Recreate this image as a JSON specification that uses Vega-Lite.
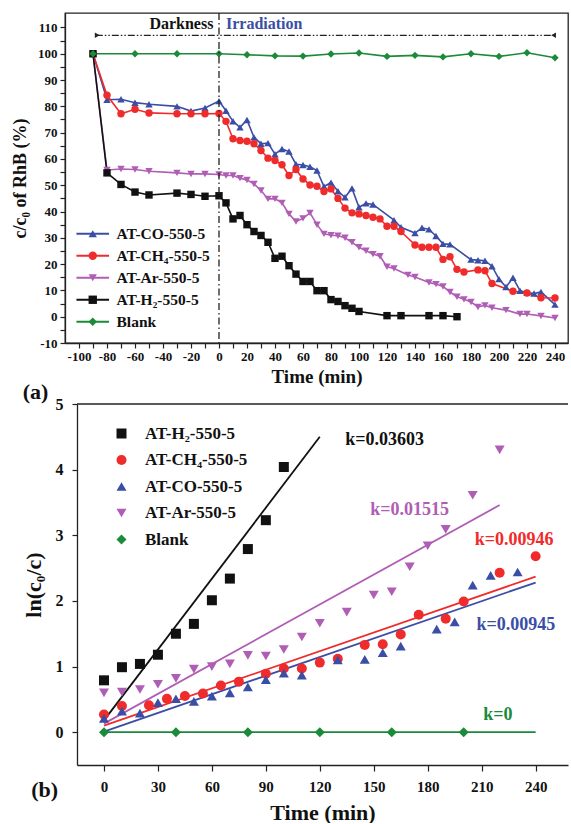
{
 "$schema": "https://vega.github.io/schema/vega-lite/v6.json",
 "padding": {"left": 10, "top": 11, "right": 0, "bottom": 0},
 "background": "white",
 "spacing": -12,
 "config": {
  "font": "Liberation Serif",
  "axis": {"labelFont": "Liberation Serif", "titleFont": "Liberation Serif", "labelFontWeight": "bold", "titleFontWeight": "bold", "labelColor": "#111", "titleColor": "#111", "domainColor": "#222", "tickColor": "#222", "grid": false, "domainWidth": 1.3, "tickWidth": 1.2, "labelFlush": false, "labelOverlap": false, "labelBound": false},
  "legend": {"labelFont": "Liberation Serif", "labelFontWeight": "bold", "labelColor": "#111"},
  "text": {"font": "Liberation Serif", "fontWeight": "bold"}
 },
 "datasets": {
  "top": [
   {"s":"AT-CO-550-5","t":-90,"v":100},{"s":"AT-CO-550-5","t":-80,"v":82.5},{"s":"AT-CO-550-5","t":-70,"v":82.7},{"s":"AT-CO-550-5","t":-60,"v":81.4},{"s":"AT-CO-550-5","t":-50,"v":80.8},{"s":"AT-CO-550-5","t":-30,"v":80},{"s":"AT-CO-550-5","t":-20,"v":78.2},{"s":"AT-CO-550-5","t":-10,"v":79.4},{"s":"AT-CO-550-5","t":0,"v":82},{"s":"AT-CO-550-5","t":5,"v":78.3},{"s":"AT-CO-550-5","t":10,"v":74.3},{"s":"AT-CO-550-5","t":15,"v":72},{"s":"AT-CO-550-5","t":20,"v":74.8},{"s":"AT-CO-550-5","t":25,"v":68.2},{"s":"AT-CO-550-5","t":30,"v":65.8},{"s":"AT-CO-550-5","t":35,"v":66},{"s":"AT-CO-550-5","t":40,"v":61.8},{"s":"AT-CO-550-5","t":45,"v":63.8},{"s":"AT-CO-550-5","t":50,"v":62.8},{"s":"AT-CO-550-5","t":55,"v":58},{"s":"AT-CO-550-5","t":60,"v":57.7},{"s":"AT-CO-550-5","t":65,"v":57},{"s":"AT-CO-550-5","t":70,"v":55.6},{"s":"AT-CO-550-5","t":75,"v":49.5},{"s":"AT-CO-550-5","t":80,"v":51},{"s":"AT-CO-550-5","t":85,"v":47.7},{"s":"AT-CO-550-5","t":90,"v":45.4},{"s":"AT-CO-550-5","t":95,"v":48.8},{"s":"AT-CO-550-5","t":100,"v":41.6},{"s":"AT-CO-550-5","t":105,"v":43.1},{"s":"AT-CO-550-5","t":110,"v":42.7},{"s":"AT-CO-550-5","t":125,"v":36.7},{"s":"AT-CO-550-5","t":130,"v":34},{"s":"AT-CO-550-5","t":140,"v":31.8},{"s":"AT-CO-550-5","t":145,"v":33.8},{"s":"AT-CO-550-5","t":150,"v":33.2},{"s":"AT-CO-550-5","t":155,"v":30.7},{"s":"AT-CO-550-5","t":160,"v":27.7},{"s":"AT-CO-550-5","t":165,"v":27.5},{"s":"AT-CO-550-5","t":180,"v":21.7},{"s":"AT-CO-550-5","t":185,"v":21.5},{"s":"AT-CO-550-5","t":190,"v":21.3},{"s":"AT-CO-550-5","t":195,"v":19.2},{"s":"AT-CO-550-5","t":200,"v":14.3},{"s":"AT-CO-550-5","t":205,"v":11.3},{"s":"AT-CO-550-5","t":210,"v":14.8},{"s":"AT-CO-550-5","t":215,"v":9.9},{"s":"AT-CO-550-5","t":220,"v":9.2},{"s":"AT-CO-550-5","t":225,"v":8.8},{"s":"AT-CO-550-5","t":230,"v":9.4},{"s":"AT-CO-550-5","t":240,"v":4.6},
   {"s":"AT-CH₄-550-5","t":-90,"v":100},{"s":"AT-CH₄-550-5","t":-80,"v":84.2},{"s":"AT-CH₄-550-5","t":-70,"v":77.2},{"s":"AT-CH₄-550-5","t":-60,"v":78.9},{"s":"AT-CH₄-550-5","t":-50,"v":77.5},{"s":"AT-CH₄-550-5","t":-30,"v":77.2},{"s":"AT-CH₄-550-5","t":-20,"v":77.2},{"s":"AT-CH₄-550-5","t":-10,"v":77.2},{"s":"AT-CH₄-550-5","t":0,"v":77.3},{"s":"AT-CH₄-550-5","t":5,"v":74.3},{"s":"AT-CH₄-550-5","t":10,"v":67.7},{"s":"AT-CH₄-550-5","t":15,"v":67},{"s":"AT-CH₄-550-5","t":20,"v":66.7},{"s":"AT-CH₄-550-5","t":25,"v":65.8},{"s":"AT-CH₄-550-5","t":30,"v":63.2},{"s":"AT-CH₄-550-5","t":35,"v":60.3},{"s":"AT-CH₄-550-5","t":40,"v":59.4},{"s":"AT-CH₄-550-5","t":45,"v":57.8},{"s":"AT-CH₄-550-5","t":50,"v":53.7},{"s":"AT-CH₄-550-5","t":55,"v":56},{"s":"AT-CH₄-550-5","t":60,"v":52.4},{"s":"AT-CH₄-550-5","t":65,"v":50.1},{"s":"AT-CH₄-550-5","t":70,"v":49.6},{"s":"AT-CH₄-550-5","t":75,"v":47.6},{"s":"AT-CH₄-550-5","t":80,"v":48.6},{"s":"AT-CH₄-550-5","t":85,"v":45},{"s":"AT-CH₄-550-5","t":90,"v":41.3},{"s":"AT-CH₄-550-5","t":95,"v":39.5},{"s":"AT-CH₄-550-5","t":100,"v":39.1},{"s":"AT-CH₄-550-5","t":105,"v":38.5},{"s":"AT-CH₄-550-5","t":110,"v":37.8},{"s":"AT-CH₄-550-5","t":115,"v":37.2},{"s":"AT-CH₄-550-5","t":120,"v":34.4},{"s":"AT-CH₄-550-5","t":125,"v":34.4},{"s":"AT-CH₄-550-5","t":130,"v":32.4},{"s":"AT-CH₄-550-5","t":140,"v":27.3},{"s":"AT-CH₄-550-5","t":145,"v":26.4},{"s":"AT-CH₄-550-5","t":150,"v":26.4},{"s":"AT-CH₄-550-5","t":155,"v":26.4},{"s":"AT-CH₄-550-5","t":160,"v":21.8},{"s":"AT-CH₄-550-5","t":165,"v":22.8},{"s":"AT-CH₄-550-5","t":170,"v":18},{"s":"AT-CH₄-550-5","t":175,"v":17},{"s":"AT-CH₄-550-5","t":185,"v":17.8},{"s":"AT-CH₄-550-5","t":190,"v":17.5},{"s":"AT-CH₄-550-5","t":195,"v":12.6},{"s":"AT-CH₄-550-5","t":210,"v":9.7},{"s":"AT-CH₄-550-5","t":220,"v":9},{"s":"AT-CH₄-550-5","t":230,"v":7.2},{"s":"AT-CH₄-550-5","t":240,"v":7.1},
   {"s":"AT-Ar-550-5","t":-90,"v":100},{"s":"AT-Ar-550-5","t":-80,"v":55.8},{"s":"AT-Ar-550-5","t":-70,"v":56.2},{"s":"AT-Ar-550-5","t":-60,"v":56},{"s":"AT-Ar-550-5","t":-50,"v":55.3},{"s":"AT-Ar-550-5","t":-30,"v":54.7},{"s":"AT-Ar-550-5","t":-20,"v":54.3},{"s":"AT-Ar-550-5","t":-10,"v":54.3},{"s":"AT-Ar-550-5","t":0,"v":54.1},{"s":"AT-Ar-550-5","t":5,"v":53.7},{"s":"AT-Ar-550-5","t":10,"v":53.7},{"s":"AT-Ar-550-5","t":15,"v":52.7},{"s":"AT-Ar-550-5","t":20,"v":52},{"s":"AT-Ar-550-5","t":25,"v":50.5},{"s":"AT-Ar-550-5","t":30,"v":48},{"s":"AT-Ar-550-5","t":35,"v":44.8},{"s":"AT-Ar-550-5","t":40,"v":44.8},{"s":"AT-Ar-550-5","t":45,"v":43.3},{"s":"AT-Ar-550-5","t":50,"v":39.1},{"s":"AT-Ar-550-5","t":55,"v":36.2},{"s":"AT-Ar-550-5","t":60,"v":37.4},{"s":"AT-Ar-550-5","t":65,"v":39.5},{"s":"AT-Ar-550-5","t":70,"v":35},{"s":"AT-Ar-550-5","t":75,"v":31.5},{"s":"AT-Ar-550-5","t":80,"v":31},{"s":"AT-Ar-550-5","t":85,"v":30.8},{"s":"AT-Ar-550-5","t":90,"v":30},{"s":"AT-Ar-550-5","t":95,"v":28.3},{"s":"AT-Ar-550-5","t":100,"v":26.4},{"s":"AT-Ar-550-5","t":105,"v":25.1},{"s":"AT-Ar-550-5","t":110,"v":23.8},{"s":"AT-Ar-550-5","t":115,"v":23},{"s":"AT-Ar-550-5","t":120,"v":19},{"s":"AT-Ar-550-5","t":125,"v":18.3},{"s":"AT-Ar-550-5","t":135,"v":15.9},{"s":"AT-Ar-550-5","t":140,"v":15.1},{"s":"AT-Ar-550-5","t":150,"v":13},{"s":"AT-Ar-550-5","t":155,"v":12.4},{"s":"AT-Ar-550-5","t":160,"v":11.5},{"s":"AT-Ar-550-5","t":165,"v":9.4},{"s":"AT-Ar-550-5","t":170,"v":7.6},{"s":"AT-Ar-550-5","t":175,"v":6.6},{"s":"AT-Ar-550-5","t":180,"v":5.6},{"s":"AT-Ar-550-5","t":185,"v":3.7},{"s":"AT-Ar-550-5","t":190,"v":4.3},{"s":"AT-Ar-550-5","t":195,"v":3.4},{"s":"AT-Ar-550-5","t":205,"v":2.5},{"s":"AT-Ar-550-5","t":215,"v":1},{"s":"AT-Ar-550-5","t":220,"v":1},{"s":"AT-Ar-550-5","t":230,"v":0.3},{"s":"AT-Ar-550-5","t":240,"v":-0.5},
   {"s":"AT-H₂-550-5","t":-90,"v":100},{"s":"AT-H₂-550-5","t":-80,"v":54.7},{"s":"AT-H₂-550-5","t":-70,"v":50.3},{"s":"AT-H₂-550-5","t":-60,"v":47.4},{"s":"AT-H₂-550-5","t":-50,"v":46.3},{"s":"AT-H₂-550-5","t":-30,"v":47},{"s":"AT-H₂-550-5","t":-20,"v":46.5},{"s":"AT-H₂-550-5","t":-10,"v":45.8},{"s":"AT-H₂-550-5","t":0,"v":46},{"s":"AT-H₂-550-5","t":5,"v":43.3},{"s":"AT-H₂-550-5","t":10,"v":37.2},{"s":"AT-H₂-550-5","t":15,"v":38.5},{"s":"AT-H₂-550-5","t":20,"v":35},{"s":"AT-H₂-550-5","t":25,"v":32.4},{"s":"AT-H₂-550-5","t":30,"v":30.9},{"s":"AT-H₂-550-5","t":35,"v":28.3},{"s":"AT-H₂-550-5","t":40,"v":22.2},{"s":"AT-H₂-550-5","t":45,"v":23},{"s":"AT-H₂-550-5","t":50,"v":19.4},{"s":"AT-H₂-550-5","t":55,"v":16.2},{"s":"AT-H₂-550-5","t":60,"v":13.4},{"s":"AT-H₂-550-5","t":65,"v":13.4},{"s":"AT-H₂-550-5","t":70,"v":9.9},{"s":"AT-H₂-550-5","t":75,"v":9.9},{"s":"AT-H₂-550-5","t":80,"v":6.5},{"s":"AT-H₂-550-5","t":85,"v":5.8},{"s":"AT-H₂-550-5","t":90,"v":4.2},{"s":"AT-H₂-550-5","t":95,"v":3.2},{"s":"AT-H₂-550-5","t":100,"v":2},{"s":"AT-H₂-550-5","t":120,"v":0.4},{"s":"AT-H₂-550-5","t":130,"v":0.4},{"s":"AT-H₂-550-5","t":150,"v":0.4},{"s":"AT-H₂-550-5","t":160,"v":0.4},{"s":"AT-H₂-550-5","t":170,"v":0},
   {"s":"Blank","t":-90,"v":100},{"s":"Blank","t":-60,"v":100},{"s":"Blank","t":-30,"v":100},{"s":"Blank","t":0,"v":100},{"s":"Blank","t":20,"v":99.6},{"s":"Blank","t":40,"v":99.2},{"s":"Blank","t":60,"v":99.1},{"s":"Blank","t":80,"v":99.9},{"s":"Blank","t":100,"v":100.3},{"s":"Blank","t":120,"v":99},{"s":"Blank","t":140,"v":99.4},{"s":"Blank","t":160,"v":98.8},{"s":"Blank","t":180,"v":100},{"s":"Blank","t":200,"v":99},{"s":"Blank","t":220,"v":100.4},{"s":"Blank","t":240,"v":98.5}
  ],
  "fitpts": [
   {"s":"AT-H₂-550-5","t":0,"v":0.79},{"s":"AT-H₂-550-5","t":10,"v":0.99},{"s":"AT-H₂-550-5","t":20,"v":1.04},{"s":"AT-H₂-550-5","t":30,"v":1.18},{"s":"AT-H₂-550-5","t":40,"v":1.5},{"s":"AT-H₂-550-5","t":50,"v":1.65},{"s":"AT-H₂-550-5","t":60,"v":2.01},{"s":"AT-H₂-550-5","t":70,"v":2.34},{"s":"AT-H₂-550-5","t":80,"v":2.79},{"s":"AT-H₂-550-5","t":90,"v":3.23},{"s":"AT-H₂-550-5","t":100,"v":4.04},
   {"s":"AT-CH₄-550-5","t":0,"v":0.27},{"s":"AT-CH₄-550-5","t":10,"v":0.4},{"s":"AT-CH₄-550-5","t":25,"v":0.41},{"s":"AT-CH₄-550-5","t":35,"v":0.51},{"s":"AT-CH₄-550-5","t":45,"v":0.55},{"s":"AT-CH₄-550-5","t":55,"v":0.59},{"s":"AT-CH₄-550-5","t":65,"v":0.71},{"s":"AT-CH₄-550-5","t":75,"v":0.77},{"s":"AT-CH₄-550-5","t":90,"v":0.89},{"s":"AT-CH₄-550-5","t":100,"v":0.97},{"s":"AT-CH₄-550-5","t":110,"v":0.97},{"s":"AT-CH₄-550-5","t":120,"v":1.06},{"s":"AT-CH₄-550-5","t":130,"v":1.12},{"s":"AT-CH₄-550-5","t":145,"v":1.33},{"s":"AT-CH₄-550-5","t":155,"v":1.34},{"s":"AT-CH₄-550-5","t":165,"v":1.49},{"s":"AT-CH₄-550-5","t":175,"v":1.79},{"s":"AT-CH₄-550-5","t":190,"v":1.73},{"s":"AT-CH₄-550-5","t":200,"v":1.99},{"s":"AT-CH₄-550-5","t":220,"v":2.43},{"s":"AT-CH₄-550-5","t":240,"v":2.68},
   {"s":"AT-CO-550-5","t":0,"v":0.21},{"s":"AT-CO-550-5","t":10,"v":0.32},{"s":"AT-CO-550-5","t":20,"v":0.29},{"s":"AT-CO-550-5","t":30,"v":0.45},{"s":"AT-CO-550-5","t":40,"v":0.51},{"s":"AT-CO-550-5","t":50,"v":0.47},{"s":"AT-CO-550-5","t":60,"v":0.55},{"s":"AT-CO-550-5","t":70,"v":0.6},{"s":"AT-CO-550-5","t":80,"v":0.69},{"s":"AT-CO-550-5","t":90,"v":0.8},{"s":"AT-CO-550-5","t":100,"v":0.9},{"s":"AT-CO-550-5","t":110,"v":0.87},{"s":"AT-CO-550-5","t":130,"v":1.1},{"s":"AT-CO-550-5","t":145,"v":1.11},{"s":"AT-CO-550-5","t":155,"v":1.21},{"s":"AT-CO-550-5","t":165,"v":1.31},{"s":"AT-CO-550-5","t":185,"v":1.57},{"s":"AT-CO-550-5","t":195,"v":1.68},{"s":"AT-CO-550-5","t":205,"v":2.24},{"s":"AT-CO-550-5","t":215,"v":2.39},{"s":"AT-CO-550-5","t":230,"v":2.44},
   {"s":"AT-Ar-550-5","t":0,"v":0.6},{"s":"AT-Ar-550-5","t":10,"v":0.61},{"s":"AT-Ar-550-5","t":20,"v":0.65},{"s":"AT-Ar-550-5","t":30,"v":0.73},{"s":"AT-Ar-550-5","t":40,"v":0.82},{"s":"AT-Ar-550-5","t":50,"v":0.96},{"s":"AT-Ar-550-5","t":60,"v":1},{"s":"AT-Ar-550-5","t":70,"v":1.04},{"s":"AT-Ar-550-5","t":80,"v":1.17},{"s":"AT-Ar-550-5","t":90,"v":1.16},{"s":"AT-Ar-550-5","t":100,"v":1.26},{"s":"AT-Ar-550-5","t":110,"v":1.45},{"s":"AT-Ar-550-5","t":120,"v":1.66},{"s":"AT-Ar-550-5","t":135,"v":1.83},{"s":"AT-Ar-550-5","t":150,"v":2.09},{"s":"AT-Ar-550-5","t":160,"v":2.14},{"s":"AT-Ar-550-5","t":170,"v":2.52},{"s":"AT-Ar-550-5","t":180,"v":2.84},{"s":"AT-Ar-550-5","t":190,"v":3.09},{"s":"AT-Ar-550-5","t":205,"v":3.61},{"s":"AT-Ar-550-5","t":220,"v":4.3},
   {"s":"Blank","t":0,"v":0},{"s":"Blank","t":40,"v":0},{"s":"Blank","t":80,"v":0},{"s":"Blank","t":120,"v":0},{"s":"Blank","t":160,"v":0},{"s":"Blank","t":200,"v":0}
  ],
  "fitlines": [
   {"s":"AT-H₂-550-5","t":0,"v":0.18},{"s":"AT-H₂-550-5","t":120,"v":4.5},
   {"s":"AT-Ar-550-5","t":0,"v":0.13},{"s":"AT-Ar-550-5","t":220,"v":3.46},
   {"s":"AT-CH₄-550-5","t":0,"v":0.1},{"s":"AT-CH₄-550-5","t":240,"v":2.37},
   {"s":"AT-CO-550-5","t":0,"v":0.01},{"s":"AT-CO-550-5","t":240,"v":2.28},
   {"s":"Blank","t":0,"v":0},{"s":"Blank","t":240,"v":0}
  ],
  "klabels": [
   {"label":"k=0.03603","s":"AT-H₂-550-5","t":156,"v":4.45},
   {"label":"k=0.01515","s":"AT-Ar-550-5","t":170,"v":3.38},
   {"label":"k=0.00946","s":"AT-CH₄-550-5","t":228,"v":2.93},
   {"label":"k=0.00945","s":"AT-CO-550-5","t":229,"v":1.63},
   {"label":"k=0","s":"Blank","t":219,"v":0.26}
  ]
 },
 "vconcat": [
  {
   "width": 503, "height": 330,
   "view": {"stroke": "#222", "strokeWidth": 1.3},
   "resolve": {"axis": {"x": "independent", "y": "independent"}},
   "layer": [
    {"data": {"name": "top"}, "mark": {"type": "line", "strokeWidth": 1.6},
     "encoding": {
      "x": {"field": "t", "type": "quantitative", "scale": {"domain": [-110, 249.3], "nice": false, "zero": false},
       "axis": {"orient": "bottom", "title": "Time (min)", "values": [-100,-80,-60,-40,-20,0,20,40,60,80,100,120,140,160,180,200,220,240], "labelExpr": "'' + datum.value", "labelOverlap": false, "labelFontSize": 13, "titleFontSize": 19, "tickSize": 5, "labelPadding": 2, "titlePadding": 4}},
      "y": {"field": "v", "type": "quantitative", "scale": {"domain": [-10, 115.5], "nice": false, "zero": false},
       "axis": {"orient": "left", "title": "c/c₀ of RhB (%)", "values": [-10,0,10,20,30,40,50,60,70,80,90,100,110], "labelExpr": "'' + datum.value", "labelOverlap": false, "labelFontSize": 13, "titleFontSize": 18, "tickSize": 5, "labelPadding": 3, "titlePadding": 8}},
      "stroke": {"field": "s", "type": "nominal", "sort": ["AT-CO-550-5","AT-CH₄-550-5","AT-Ar-550-5","AT-H₂-550-5","Blank"],
       "scale": {"range": ["#3b4ea5","#ef2b2b","#b05db5","#111111","#1b8a3a"]},
       "legend": {"orient": "none", "legendX": 20, "legendY": 213, "title": null, "symbolType": "M-3.9,0H3.9", "symbolSize": 70, "symbolStrokeWidth": 1.8, "labelFontSize": 15.5, "labelOffset": 16, "rowPadding": 5, "padding": 0, "labelColor": "transparent"}}
     }},
    {"data": {"name": "top"}, "mark": {"type": "point", "filled": true, "size": 55, "opacity": 1},
     "encoding": {
      "x": {"field": "t", "type": "quantitative", "axis": {"orient": "bottom", "title": null, "labels": false, "domain": false, "tickSize": 5, "values": [-90,-70,-50,-30,-10,10,30,50,70,90,110,130,150,170,190,210,230]}},
      "y": {"field": "v", "type": "quantitative", "axis": {"orient": "left", "title": null, "labels": false, "domain": false, "tickSize": 5, "values": [-5,5,15,25,35,45,55,65,75,85,95,105]}},
      "fill": {"field": "s", "type": "nominal", "scale": {"domain": ["AT-CO-550-5","AT-CH₄-550-5","AT-Ar-550-5","AT-H₂-550-5","Blank"], "range": ["#3b4ea5","#ef2b2b","#b05db5","#111111","#1b8a3a"]},
       "legend": {"orient": "none", "legendX": 20, "legendY": 213, "title": null, "symbolSize": 70, "labelFontSize": 15.5, "labelOffset": 16, "rowPadding": 5, "padding": 0}},
      "shape": {"field": "s", "type": "nominal", "scale": {"domain": ["AT-CO-550-5","AT-CH₄-550-5","AT-Ar-550-5","AT-H₂-550-5","Blank"], "range": ["triangle-up","circle","triangle-down","square","diamond"]},
       "legend": {"orient": "none", "legendX": 20, "legendY": 213, "title": null, "symbolSize": 70, "labelFontSize": 15.5, "labelOffset": 16, "rowPadding": 5, "padding": 0}}
     }},
    {"data": {"values": [{}]}, "mark": {"type": "rule", "strokeDash": [7,3,1.5,3], "strokeWidth": 1.3, "color": "#222"}, "encoding": {"x": {"datum": 0, "axis": null}}},
    {"data": {"values": [{}]}, "mark": {"type": "rule", "strokeDash": [7,2,1.5,2,1.5,2], "strokeWidth": 1.3, "color": "#222"}, "encoding": {"x": {"datum": -88, "axis": null}, "x2": {"datum": 239}, "y": {"datum": 107, "axis": null}}},
    {"data": {"values": [{}]}, "mark": {"type": "point", "shape": "triangle-right", "filled": true, "size": 30, "color": "#222", "opacity": 1}, "encoding": {"x": {"datum": -87, "axis": null}, "y": {"datum": 107, "axis": null}}},
    {"data": {"values": [{}]}, "mark": {"type": "point", "shape": "triangle-left", "filled": true, "size": 30, "color": "#222", "opacity": 1}, "encoding": {"x": {"datum": 239, "axis": null}, "y": {"datum": 107, "axis": null}}},
    {"data": {"values": [{}]}, "mark": {"type": "text", "align": "right", "baseline": "middle", "fontSize": 16, "fontWeight": "bold", "color": "#111"}, "encoding": {"x": {"datum": -4, "axis": null}, "y": {"datum": 111.3, "axis": null}, "text": {"value": "Darkness"}}},
    {"data": {"values": [{}]}, "mark": {"type": "text", "align": "left", "baseline": "middle", "fontSize": 16, "fontWeight": "bold", "color": "#3b4ea5"}, "encoding": {"x": {"datum": 5, "axis": null}, "y": {"datum": 111.3, "axis": null}, "text": {"value": "Irradiation"}}},
    {"data": {"values": [{}]}, "mark": {"type": "text", "align": "center", "baseline": "middle", "fontSize": 22, "fontWeight": "bold", "color": "#111"}, "encoding": {"x": {"datum": -131, "axis": null}, "y": {"datum": -28.5, "axis": null}, "text": {"value": "(a)"}}}
   ]
  },
  {
   "width": 503, "height": 361,
   "view": {"stroke": null},
   "layer": [
    {"data": {"name": "fitlines"}, "mark": {"type": "line", "strokeWidth": 1.8},
     "encoding": {
      "x": {"field": "t", "type": "quantitative", "scale": {"domain": [-15, 258], "range": [12, 503], "nice": false, "zero": false},
       "axis": {"title": "Time (min)", "values": [0,15,30,45,60,75,90,105,120,135,150,165,180,195,210,225,240,255], "labelExpr": "datum.value % 30 == 0 ? '' + datum.value : ''", "labelOverlap": false, "labelFontSize": 15, "titleFontSize": 22, "tickSize": 6, "labelPadding": 8, "titlePadding": 8}},
      "y": {"field": "v", "type": "quantitative", "scale": {"domain": [-0.5, 5], "nice": false, "zero": false},
       "axis": {"title": "ln(c₀/c)", "offset": -12, "values": [0,0.5,1,1.5,2,2.5,3,3.5,4,4.5,5], "labelExpr": "datum.value % 1 == 0 ? '' + datum.value : ''", "labelOverlap": false, "labelFontSize": 16, "titleFontSize": 22, "tickSize": 5, "labelPadding": 9, "titlePadding": 10}},
      "stroke": {"field": "s", "type": "nominal", "scale": {"domain": ["Blank","AT-Ar-550-5","AT-CO-550-5","AT-CH₄-550-5","AT-H₂-550-5"], "range": ["#1b8a3a","#b05db5","#3b4ea5","#ef2b2b","#111111"]}, "legend": null}
     }},
    {"data": {"name": "fitpts"}, "mark": {"type": "point", "filled": true, "size": 100, "opacity": 1},
     "encoding": {
      "x": {"field": "t", "type": "quantitative"},
      "y": {"field": "v", "type": "quantitative"},
      "fill": {"field": "s", "type": "nominal", "scale": {"domain": ["AT-H₂-550-5","AT-CH₄-550-5","AT-CO-550-5","AT-Ar-550-5","Blank"], "range": ["#111111","#ef2b2b","#3b4ea5","#b05db5","#1b8a3a"]},
       "legend": {"orient": "none", "legendX": 48, "legendY": 21, "title": null, "symbolSize": 100, "labelFontSize": 17, "labelOffset": 15, "rowPadding": 8.5, "padding": 0}},
      "shape": {"field": "s", "type": "nominal", "scale": {"domain": ["AT-H₂-550-5","AT-CH₄-550-5","AT-CO-550-5","AT-Ar-550-5","Blank"], "range": ["square","circle","triangle-up","triangle-down","diamond"]},
       "legend": {"orient": "none", "legendX": 48, "legendY": 21, "title": null, "symbolSize": 100, "labelFontSize": 17, "labelOffset": 15, "rowPadding": 8.5, "padding": 0}}
     }},
    {"data": {"name": "klabels"}, "mark": {"type": "text", "fontSize": 18, "fontWeight": "bold", "align": "center", "baseline": "middle"},
     "encoding": {
      "x": {"field": "t", "type": "quantitative"},
      "y": {"field": "v", "type": "quantitative"},
      "text": {"field": "label"},
      "color": {"field": "s", "type": "nominal", "scale": {"domain": ["AT-CO-550-5","Blank","AT-H₂-550-5","AT-Ar-550-5","AT-CH₄-550-5"], "range": ["#3b4ea5","#1b8a3a","#111111","#b05db5","#ef2b2b"]}, "legend": null}
     }},
    {"data": {"values": [{}]}, "mark": {"type": "rule", "color": "#222", "strokeWidth": 1.3}, "encoding": {"x": {"datum": -15}, "x2": {"datum": 258}, "y": {"datum": 5}}},
    {"data": {"values": [{}]}, "mark": {"type": "text", "align": "center", "baseline": "middle", "fontSize": 22, "fontWeight": "bold", "color": "#111"}, "encoding": {"x": {"datum": -33}, "y": {"datum": -0.88}, "text": {"value": "(b)"}}}
   ]
  }
 ],
 "resolve": {"scale": {"x": "independent", "y": "independent", "fill": "independent", "shape": "independent", "stroke": "independent", "color": "independent"}}
}
